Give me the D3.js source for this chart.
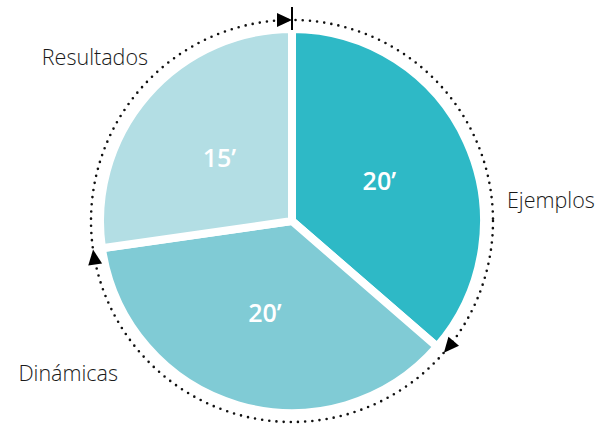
<!DOCTYPE html>
<html>
<head>
<meta charset="utf-8">
<script src="https://cdn.jsdelivr.net/npm/d3@7"></script>
<style>
  body { margin: 0; background: #fff; }
  text { font-family: "Open Sans", "Noto Sans", sans-serif; }
</style>
</head>
<body>
<div id="chart"></div>
<script>
// minutes per section
var categories = ["Ejemplos", "Dinámicas", "Resultados"];
var values = [20, 20, 15];
var valueLabels = ["20’", "20’", "15’"];
var colors = ["#2eb9c6", "#80cbd5", "#b3dee4"];

var width = 599, height = 424;
var cx = 292, cy = 221;
var radius = 188, ringRadius = 201;

var svg = d3.select("#chart")
  .append("svg")
  .attr("width", width)
  .attr("height", height);

var g = svg.append("g")
  .attr("transform", "translate(" + cx + "," + cy + ")");

var pie = d3.pie().sort(null).value(function(d) { return d; });
var arcs = pie(values);

var arc = d3.arc().innerRadius(0).outerRadius(radius + 4);
var labelArc = d3.arc().innerRadius(192).outerRadius(0);

g.selectAll("path.slice")
  .data(arcs)
  .join("path")
  .attr("class", "slice")
  .attr("d", arc)
  .attr("fill", function(d, i) { return colors[i]; })
  .attr("stroke", "#fff")
  .attr("stroke-width", 8)
  .attr("stroke-linejoin", "miter");

g.selectAll("text.value")
  .data(arcs)
  .join("text")
  .attr("class", "value")
  .attr("transform", function(d) { return "translate(" + labelArc.centroid(d) + ")"; })
  .attr("text-anchor", "middle")
  .attr("dy", "0.35em")
  .attr("fill", "#fff")
  .attr("font-size", 25)
  .attr("font-weight", 600)
  .text(function(d, i) { return valueLabels[i]; });

// dotted ring
g.append("circle")
  .attr("r", ringRadius)
  .attr("fill", "none")
  .attr("stroke", "#111")
  .attr("stroke-width", 2.6)
  .attr("stroke-linecap", "round")
  .attr("stroke-dasharray", "0 7.2");

// arrows at the end of each slice, clockwise
g.selectAll("path.arrow")
  .data(arcs)
  .join("path")
  .attr("class", "arrow")
  .attr("d", "M0,0L-15,-7L-15,7Z")
  .attr("fill", "#000")
  .attr("transform", function(d) {
    var a = d.endAngle;
    var x = ringRadius * Math.sin(a), y = -ringRadius * Math.cos(a);
    return "translate(" + x + "," + y + ") rotate(" + (a * 180 / Math.PI) + ")";
  });

// start tick
g.append("line")
  .attr("x1", 0).attr("x2", 0)
  .attr("y1", -ringRadius - 13).attr("y2", -ringRadius + 10)
  .attr("stroke", "#000")
  .attr("stroke-width", 2);

// outside names
var namePos = [[507, 208, "start"], [118, 381, "end"], [148, 65, "end"]];
svg.selectAll("text.name")
  .data(categories)
  .join("text")
  .attr("class", "name")
  .attr("x", function(d, i) { return namePos[i][0]; })
  .attr("y", function(d, i) { return namePos[i][1]; })
  .attr("text-anchor", function(d, i) { return namePos[i][2]; })
  .attr("font-size", 21.5)
  .attr("font-weight", 300)
  .attr("fill", "#1a1a1a")
  .text(function(d) { return d; });
</script>
</body>
</html>
